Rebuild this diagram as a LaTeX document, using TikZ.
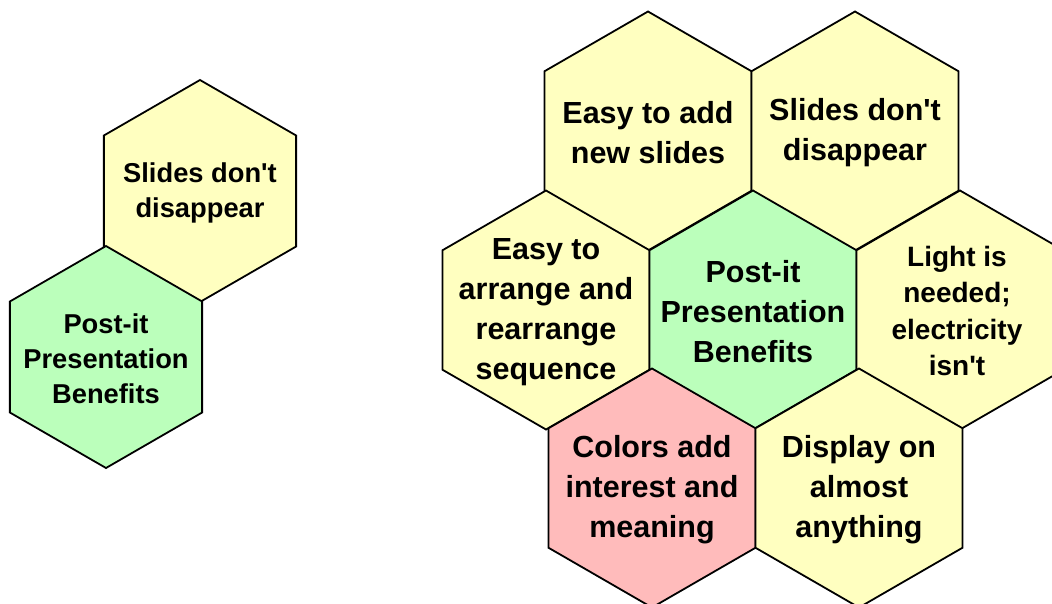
\documentclass[tikz,border=0pt]{standalone}
\usepackage{fontspec}
\setmainfont{Liberation Sans}[Ligatures=TeXOff]
\usetikzlibrary{shapes.geometric}
\definecolor{hexyellow}{HTML}{FFFFC0}
\definecolor{hexgreen}{HTML}{BBFFBB}
\definecolor{hexpink}{HTML}{FFBBBB}
\tikzset{
  hexa/.style={regular polygon, regular polygon sides=6, shape border rotate=30,
    draw=black, line width=1.8pt, inner sep=0pt, outer sep=0pt},
  bighex/.style={hexa, minimum size=239pt},
  smallhex/.style={hexa, minimum size=222pt},
  bigtxt/.style={align=center, inner sep=0pt, yshift=-2pt, font=\bfseries\fontsize{30.5}{40}\selectfont},
  midtxt/.style={align=center, inner sep=0pt, yshift=-1pt, font=\bfseries\fontsize{28}{36.5}\selectfont},
  smalltxt/.style={align=center, inner sep=0pt, yshift=-2pt, font=\bfseries\fontsize{27.3}{35}\selectfont},
}
\begin{document}
\begin{tikzpicture}[x=1pt,y=-1pt]
\useasboundingbox (0,0) rectangle (1052,603);
\clip (0,0) rectangle (1052,603);
% small pair
\node[smallhex, fill=hexyellow] (sY) at (200,191) {};
\node[smallhex, fill=hexgreen] (sG) at (106,357) {};
\node[smalltxt] (tsY) at (sY.center) {Slides don't\\disappear};
\node[smalltxt] (tsG) at (sG.center) {Post-it\\Presentation\\Benefits};
% big cluster
\node[bighex, fill=hexyellow] (hA) at (648,131) {};
\node[bighex, fill=hexyellow] (hB) at (855,131) {};
\node[bighex, fill=hexyellow] (hC) at (546,310) {};
\node[bighex, fill=hexgreen]  (hG) at (753,310) {};
\node[bighex, fill=hexyellow] (hD) at (960,310) {};
\node[bighex, fill=hexpink]   (hP) at (652,488) {};
\node[bighex, fill=hexyellow] (hE) at (859,488) {};
\node[bigtxt] (tA) at (hA.center) {Easy to add\\new slides};
\node[bigtxt] (tB) at (hB.center) {Slides don't\\disappear};
\node[bigtxt] (tC) at (hC.center) {Easy to\\arrange and\\rearrange\\sequence};
\node[bigtxt] (tG) at (hG.center) {Post-it\\Presentation\\Benefits};
\node[midtxt] (tD) at ([xshift=-3pt]hD.center) {Light is\\needed;\\electricity\\isn't};
\node[bigtxt] (tP) at (hP.center) {Colors add\\interest and\\meaning};
\node[bigtxt] (tE) at (hE.center) {Display on\\almost\\anything};
\end{tikzpicture}
\end{document}
